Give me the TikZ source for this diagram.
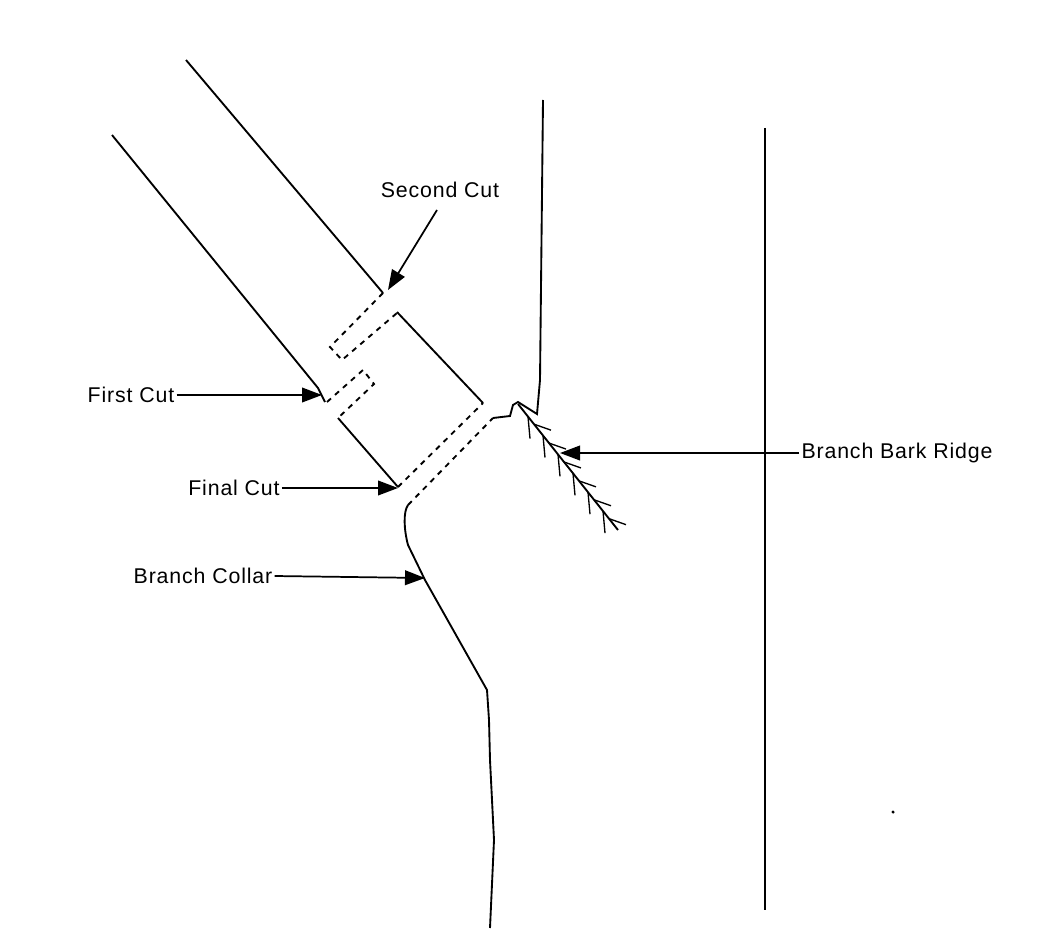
\documentclass[tikz,border=0pt]{standalone}
\usepackage{fontspec}
\setmainfont{Liberation Sans}[LetterSpace=4]
\usetikzlibrary{arrows.meta,calc}
\begin{document}
\begin{tikzpicture}[x=0.75pt,y=-0.75pt,line width=1.4pt,
  lbl/.style={font=\fontsize{16}{19}\selectfont,inner sep=1pt},
  arr/.style={line width=1.3pt,-{Triangle[length=15pt,width=11pt]}},
  cut/.style={dash pattern=on 4pt off 4pt}]
\useasboundingbox (0,0) rectangle (1056,938);
% branch upper line
\draw (186,60) -- (383,293);
\draw[cut] (383,293) -- (330,347) -- (342,360) -- (397,313);
\draw (397,312) -- (483,403);
% branch lower line
\draw (112,135) -- (318,388) -- (325,402);
\draw[cut] (327,402) -- (363,370) -- (374,384) -- (338,418);
\draw (338,418) -- (398,487);
% final cut
\draw[cut] (398,487) -- (483,403);
\draw[cut] (408,505) -- (493,418);
% trunk
\draw (493,418) -- (510,416) -- (513,405) -- (518,402) -- (537,414) -- (540,380) -- (543,100);
\draw (765,128) -- (765,910);
% collar
\draw (408,505) .. controls (403,512) and (404,530) .. (408,545) -- (425,580) -- (487,690) -- (489,720) -- (490,760) -- (494,840) -- (490,928);
% bark ridge
\draw (518,404) -- (618,530);
\foreach \t in {0.1,0.25,0.4,0.55,0.7,0.85}{
  \draw[line width=1pt] ($(518,404)!\t!(618,530)$) -- ++(2,22);
  \draw[line width=1pt] ($(518,404)!\t+0.06!(618,530)$) -- ++(17,6);
}
% labels
\node[lbl] (sc) at (440,190) {Second Cut};
\coordinate (sct) at (388,290);
\draw[arr] (437,210) -- (sct);
\node[lbl] (fc) at (131,395) {First Cut};
\coordinate (fct) at (322,395);
\draw[arr] (fc.east) -- (fct);
\node[lbl] (fin) at (234,488) {Final Cut};
\coordinate (fint) at (398,488);
\draw[arr] (fin.east) -- (fint);
\node[lbl] (bc) at (203,576) {Branch Collar};
\coordinate (bct) at (425,578);
\draw[arr] (bc.east) -- (bct);
\node[lbl] (br) at (897,453) {Branch Bark Ridge};
\coordinate (brt) at (560,453);
\draw[arr] (br.west) -- (brt);
\fill (893,812) circle (1.3pt);
\end{tikzpicture}
\end{document}
